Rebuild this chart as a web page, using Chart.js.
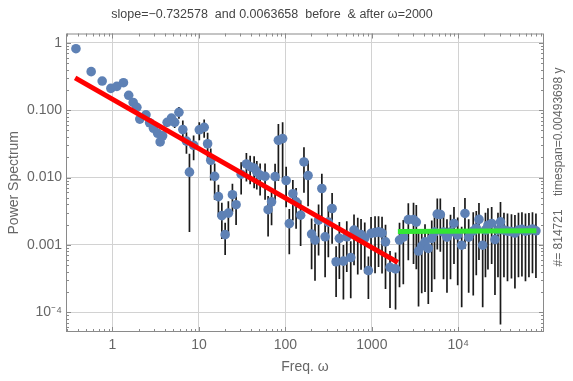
<!DOCTYPE html>
<html>
<head>
<meta charset="utf-8">
<script src="https://cdn.jsdelivr.net/npm/chart.js@4.4.0/dist/chart.umd.min.js"></script>
<style>
  html, body { margin: 0; padding: 0; background: #fff; }
  canvas { display: block; }
</style>
</head>
<body>
<canvas id="chart" width="573" height="381"></canvas>
<script>
// binned power spectrum
const freq = [
  0.378, 0.567, 0.76, 0.958, 1.124, 1.34, 1.54, 1.735, 1.915, 2.07,
  2.44, 2.69, 2.98, 3.33, 3.56, 3.8, 4.29, 4.81, 5.24, 5.87,
  6.51, 7.17, 7.77, 8.68, 10.1, 11.5, 12.6, 13.7, 15.2, 16.8,
  18.4, 20.1, 21.9, 24.4, 26.9, 30.8, 35.4, 39.1, 43.5, 46.7,
  51, 58.2, 63.1, 69.2, 76, 83, 92.9, 102, 111, 122,
  133, 150, 164, 183, 201, 220, 242, 264, 288, 314,
  347, 386, 421, 469, 513, 570, 622, 687, 750, 828,
  912, 979, 1089, 1195, 1312, 1439, 1622, 1880, 2090, 2312,
  2642, 3034, 3268, 3467, 3776, 4121, 4498, 4931, 5309, 5715,
  6194, 6745, 7396, 8128, 8913, 9840, 10940, 11940, 13180, 14890,
  16140, 17340, 19140, 20610, 22030, 24320, 26550, 28770, 30760, 33730,
  37070, 41210, 45190, 49660, 54450, 59840, 65610, 72110, 79070
];
const power = [
  0.815, 0.372, 0.27, 0.21, 0.225, 0.255, 0.166, 0.13, 0.11, 0.0736,
  0.085, 0.0649, 0.0537, 0.0453, 0.0337, 0.0416, 0.066, 0.076, 0.066, 0.0928,
  0.0514, 0.0347, 0.012, 0.0301, 0.051, 0.0556, 0.0317, 0.018, 0.0104, 0.0052,
  0.00272, 0.00142, 0.00296, 0.00556, 0.00395, 0.0112, 0.0159, 0.01445, 0.0138, 0.0121,
  0.0108, 0.0104, 0.00333, 0.00435, 0.0103, 0.0357, 0.0378, 0.00903, 0.00207, 0.00575,
  0.00435, 0.00276, 0.017, 0.0107, 0.00145, 0.00118, 0.00233, 0.00687, 0.00132, 0.00218,
  0.00347, 0.000562, 0.00125, 0.000575, 0.00132, 0.000649, 0.00166, 0.00145, 0.00142, 0.00126,
  0.000416, 0.00148, 0.00152, 0.00156, 0.0015, 0.00111, 0.000464, 0.000441, 0.00118, 0.0013,
  0.00237, 0.00237, 0.00218, 0.00081, 0.00096, 0.00111, 0.000888, 0.00125, 0.00155, 0.00286,
  0.00283, 0.00155, 0.0013, 0.00155, 0.00208, 0.0014, 0.00099, 0.00293, 0.0013, 0.00161,
  0.00177, 0.00239, 0.00099, 0.00166, 0.00196, 0.00208, 0.0012, 0.00166, 0.0022, 0.00166,
  0.0016, 0.00158, 0.0015, 0.00166, 0.0017, 0.0016, 0.00165, 0.00172, 0.00162
];
// half-length of each error bar, as a fraction of the point's value
const relErr = [
  0.1, 0.1, 0.1, 0.1, 0.1, 0.1, 0.1, 0.1, 0.1, 0.1,
  0.1, 0.1, 0.1, 0.1, 0.12, 0.12, 0.15, 0.15, 0.18, 0.2,
  0.36, 0.35, 0.87, 0.4, 0.3, 0.3, 0.45, 0.5, 0.55, 0.5,
  0.55, 0.5, 0.5, 0.45, 0.5, 0.5, 0.45, 0.45, 0.5, 0.45,
  0.5, 0.55, 0.6, 0.55, 0.55, 0.75, 0.75, 0.6, 0.65, 0.6,
  0.6, 0.65, 0.65, 0.65, 0.7, 0.75, 0.7, 0.65, 0.75, 0.7,
  0.7, 0.7, 0.75, 0.73, 0.7, 0.75, 0.7, 0.75, 0.7, 0.7,
  0.62, 0.75, 0.75, 0.7, 0.75, 0.8, 0.75, 0.75, 0.8, 0.8,
  0.75, 0.78, 0.8, 0.85, 0.8, 0.82, 0.85, 0.84, 0.8, 0.7,
  0.72, 0.8, 0.85, 0.8, 0.75, 0.82, 0.88, 0.7, 0.85, 0.89,
  0.8, 0.75, 0.88, 0.8, 0.78, 0.75, 0.85, 0.8, 0.97, 0.8,
  0.82, 0.8, 0.85, 0.8, 0.8, 0.82, 0.8, 0.78, 0.8
];
// power-law fits before and after omega = 2000
const fitBefore = [{ x: 0.37, y: 0.30 }, { x: 2000, y: 0.00055 }];
const fitAfter = [{ x: 2000, y: 0.00158 }, { x: 80000, y: 0.00162 }];

const xTicks = [1, 10, 100, 1000, 10000];
const xTickLabels = ['1', '10', '100', '1000', '10\u2074'];
const yTicks = [1e-4, 0.001, 0.01, 0.1, 1];
const yTickLabels = ['10\u207b\u2074', '0.001', '0.010', '0.100', '1'];

const titleText = 'slope=\u22120.732578  and 0.0063658  before  & after \u03c9=2000';
const sideText = '#= 814721    timespan=0.00493698 y';
const FONT = '"Liberation Sans", Arial, sans-serif';

const points = freq.map((f, i) => ({ x: f, y: power[i] }));
const errorBars = [];
freq.forEach((f, i) => {
  errorBars.push({ x: f, y: power[i] * (1 - relErr[i]) });
  errorBars.push({ x: f, y: power[i] * (1 + relErr[i]) });
  errorBars.push({ x: f, y: null });
});

function logMarks(min, max) {
  const out = [];
  for (let e = Math.floor(Math.log10(min)); e <= Math.ceil(Math.log10(max)); e++) {
    for (let k = 1; k < 10; k++) {
      const v = k * Math.pow(10, e);
      if (v >= min && v <= max) out.push({ v: v, major: k === 1 });
    }
  }
  return out;
}

// Mathematica-style frame with inward ticks on all four sides
const framePlugin = {
  id: 'frame',
  afterDatasetsDraw(chart) {
    const { ctx, chartArea: a, scales: { x, y } } = chart;
    ctx.save();
    ctx.strokeStyle = '#8a8a8a';
    ctx.lineWidth = 1;
    ctx.beginPath();
    logMarks(x.min, x.max).forEach(m => {
      const px = Math.round(x.getPixelForValue(m.v)) + 0.5;
      const len = m.major ? 5 : 3;
      ctx.moveTo(px, a.bottom); ctx.lineTo(px, a.bottom - len);
      ctx.moveTo(px, a.top); ctx.lineTo(px, a.top + len);
    });
    logMarks(y.min, y.max).forEach(m => {
      const py = Math.round(y.getPixelForValue(m.v)) + 0.5;
      const len = m.major ? 5 : 3;
      ctx.moveTo(a.left, py); ctx.lineTo(a.left + len, py);
      ctx.moveTo(a.right, py); ctx.lineTo(a.right - len, py);
    });
    ctx.stroke();
    ctx.strokeRect(a.left + 0.5, a.top + 0.5, a.right - a.left - 1, a.bottom - a.top - 1);
    ctx.restore();
  },
  afterDraw(chart) {
    const ctx = chart.ctx;
    ctx.save();
    ctx.translate(559, 167);
    ctx.rotate(-Math.PI / 2);
    ctx.textAlign = 'center';
    ctx.textBaseline = 'middle';
    ctx.fillStyle = '#666';
    ctx.font = '12px ' + FONT;
    ctx.fillText(sideText, 0, 0);
    ctx.restore();
  }
};

new Chart(document.getElementById('chart'), {
  type: 'scatter',
  data: {
    datasets: [
      { data: fitBefore, showLine: true, borderColor: '#ff0000', borderWidth: 5, pointRadius: 0, order: 1 },
      { data: fitAfter, showLine: true, borderColor: '#33e633', borderWidth: 5, pointRadius: 0, order: 1 },
      { data: points, pointRadius: 4.8, backgroundColor: '#5e81b5', borderWidth: 0, order: 2 },
      { data: errorBars, showLine: true, spanGaps: false, borderColor: '#1a1a1a', borderWidth: 1.7, pointRadius: 0, order: 3 },
    ],
  },
  options: {
    responsive: false,
    animation: false,
    devicePixelRatio: 1,
    layout: { padding: { left: 0, right: 29, top: 0, bottom: 0 } },
    plugins: {
      legend: { display: false },
      tooltip: { enabled: false },
      title: {
        display: true,
        text: titleText,
        color: '#444',
        font: { family: FONT, size: 12.5, weight: 'normal' },
        padding: { top: 7, bottom: 11.5 },
      },
    },
    scales: {
      x: {
        type: 'logarithmic',
        min: 0.29,
        max: 98000,
        afterFit: s => { s.height = 49; },
        afterBuildTicks: s => { s.ticks = xTicks.map(v => ({ value: v })); },
        grid: { color: '#d2d2d2', drawTicks: false },
        border: { display: false },
        ticks: {
          autoSkip: false,
          maxRotation: 0,
          padding: 5,
          color: '#666',
          font: { family: FONT, size: 14 },
          callback: (v, i) => xTickLabels[i],
        },
        title: {
          display: true,
          text: 'Freq. \u03c9',
          color: '#666',
          font: { family: FONT, size: 14 },
          padding: { top: 0, bottom: 5 },
        },
      },
      y: {
        type: 'logarithmic',
        min: 5.1e-5,
        max: 1.37,
        afterFit: s => { s.width = 66; },
        afterBuildTicks: s => { s.ticks = yTicks.map(v => ({ value: v })); },
        grid: { color: '#d2d2d2', drawTicks: false },
        border: { display: false },
        ticks: {
          autoSkip: false,
          padding: 4,
          color: '#666',
          font: { family: FONT, size: 14 },
          callback: (v, i) => yTickLabels[i],
        },
        title: {
          display: true,
          text: 'Power Spectrum',
          color: '#666',
          font: { family: FONT, size: 14 },
          padding: { top: 6, bottom: 0 },
        },
      },
    },
  },
  plugins: [framePlugin],
});
</script>
</body>
</html>
